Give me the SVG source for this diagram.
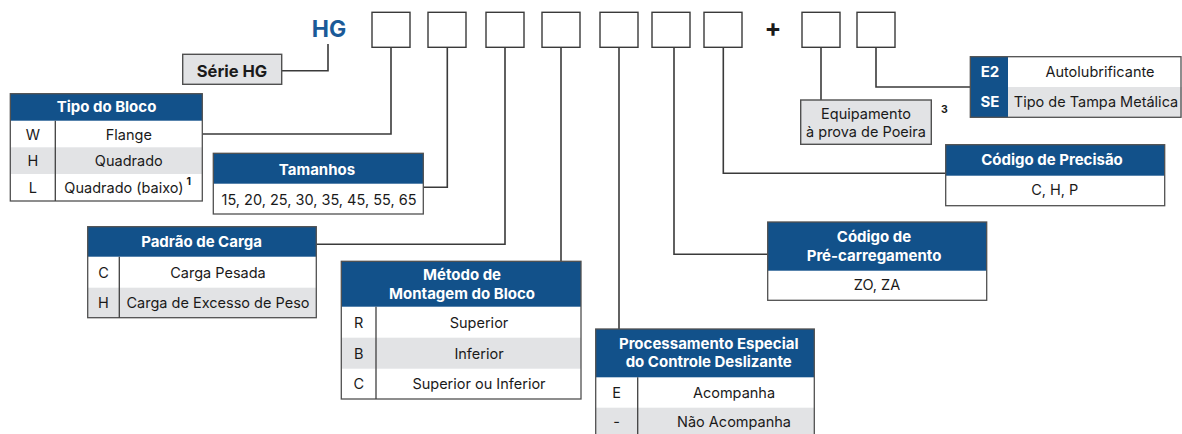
<svg xmlns="http://www.w3.org/2000/svg" width="1182" height="434" viewBox="0 0 1182 434">
<style>
text{font-family:Inter,"Liberation Sans",Arial,sans-serif;}
.bg{fill:#ffffff}
.hdr{fill:#12518a}
.shade{fill:#e2e3e5}
.frame{fill:none;stroke:#505050;stroke-width:1.3}
.div{stroke:#404040;stroke-width:1.3}
.box{fill:#ffffff;stroke:#3a3a3a;stroke-width:1.4}
.gbox{fill:#e2e3e5;stroke:#505050;stroke-width:1.4}
.conn{fill:none;stroke:#3a3a3a;stroke-width:1.6}
.th{fill:#ffffff;font-weight:700;font-size:15px;text-anchor:middle}
.td{fill:#1a1a1a;font-size:14.5px;text-anchor:middle}
.sup{fill:#1a1a1a;font-weight:700;font-size:10.5px}
</style>
<rect width="1182" height="434" class="bg"/>

<g id="connectors">
<path class="conn" d="M328,44 V70.7 H281.7"/>
<path class="conn" d="M391,47.3 V134 H202.3"/>
<path class="conn" d="M447.3,47.3 V187.3 H423.3"/>
<path class="conn" d="M505,47.3 V244.3 H316.3"/>
<path class="conn" d="M561,47.3 V261.3"/>
<path class="conn" d="M619,47.3 V329"/>
<path class="conn" d="M674,47.3 V254.3 H767.7"/>
<path class="conn" d="M723.3,47.3 V173.3 H945.7"/>
<path class="conn" d="M821,47.3 V100"/>
<path class="conn" d="M876,47.3 V87 H970.3"/>
</g>

<g id="title-hg">
<text x="329" y="37" font-size="23" font-weight="700" fill="#1a5a98" text-anchor="middle">HG</text>
</g>

<g id="code-box-1"><rect class="box" x="372" y="12.3" width="38" height="35"/></g>
<g id="code-box-2"><rect class="box" x="428" y="12.3" width="38" height="35"/></g>
<g id="code-box-3"><rect class="box" x="486" y="12.3" width="38" height="35"/></g>
<g id="code-box-4"><rect class="box" x="542" y="12.3" width="38" height="35"/></g>
<g id="code-box-5"><rect class="box" x="600" y="12.3" width="38" height="35"/></g>
<g id="code-box-6"><rect class="box" x="652" y="12.3" width="38" height="35"/></g>
<g id="code-box-7"><rect class="box" x="704" y="12.3" width="38" height="35"/></g>
<g id="plus-sign"><text x="773" y="37" font-size="25" font-weight="700" fill="#1a1a1a" text-anchor="middle">+</text></g>
<g id="code-box-8"><rect class="box" x="802" y="12.3" width="38" height="35"/></g>
<g id="code-box-9"><rect class="box" x="857" y="12.3" width="38" height="35"/></g>

<g id="serie-hg">
<rect class="gbox" x="182.7" y="54.3" width="99" height="30"/>
<text x="232" y="76.5" font-size="16.5" font-weight="700" fill="#1a1a1a" text-anchor="middle">Série HG</text>
</g>

<g id="tipo-do-bloco">
<rect class="hdr" x="10.3" y="93.7" width="192" height="27"/>
<rect class="shade" x="10.3" y="147.3" width="192" height="26.7"/>
<rect class="frame" x="10.3" y="93.7" width="192" height="107.3"/>
<line class="div" x1="55.3" y1="120.7" x2="55.3" y2="201"/>
<text class="th" x="106.5" y="111.5">Tipo do Bloco</text>
<text class="td" x="32.8" y="139.5">W</text>
<text class="td" x="128.8" y="139.5">Flange</text>
<text class="td" x="32.8" y="166">H</text>
<text class="td" x="128.8" y="166">Quadrado</text>
<text class="td" x="32.8" y="193">L</text>
<text class="td" x="124" y="193">Quadrado (baixo)</text>
<text class="sup" x="186.5" y="185">1</text>
</g>

<g id="tamanhos">
<rect class="hdr" x="213.3" y="153.3" width="210" height="30.4"/>
<rect class="frame" x="213.3" y="153.3" width="210" height="60.7"/>
<text class="th" x="317" y="174.5">Tamanhos</text>
<text class="td" x="319" y="204.5">15, 20, 25, 30, 35, 45, 55, 65</text>
</g>

<g id="padrao-de-carga">
<rect class="hdr" x="87.7" y="226.7" width="228.6" height="30"/>
<rect class="shade" x="87.7" y="287.7" width="228.6" height="30"/>
<rect class="frame" x="87.7" y="226.7" width="228.6" height="91"/>
<line class="div" x1="119.3" y1="256.7" x2="119.3" y2="317.7"/>
<text class="th" x="201.5" y="247">Padrão de Carga</text>
<text class="td" x="103.5" y="277.5">C</text>
<text class="td" x="218" y="277.5">Carga Pesada</text>
<text class="td" x="103.5" y="308">H</text>
<text class="td" x="218" y="308">Carga de Excesso de Peso</text>
</g>

<g id="metodo-montagem">
<rect class="hdr" x="341.3" y="261.3" width="239.7" height="45.4"/>
<rect class="shade" x="341.3" y="337.7" width="239.7" height="31"/>
<rect class="frame" x="341.3" y="261.3" width="239.7" height="137.7"/>
<line class="div" x1="376" y1="306.7" x2="376" y2="399"/>
<text class="th" x="462" y="280">Método de</text>
<text class="th" x="462" y="298.7">Montagem do Bloco</text>
<text class="td" x="358.7" y="327.5">R</text>
<text class="td" x="479" y="327.5">Superior</text>
<text class="td" x="358.7" y="358.5">B</text>
<text class="td" x="479" y="358.5">Inferior</text>
<text class="td" x="358.7" y="389">C</text>
<text class="td" x="479" y="389">Superior ou Inferior</text>
</g>

<g id="processamento-especial">
<rect class="hdr" x="595.7" y="329" width="218.6" height="48.3"/>
<rect class="shade" x="595.7" y="407.7" width="218.6" height="32"/>
<rect class="frame" x="595.7" y="329" width="218.6" height="112"/>
<line class="div" x1="637.7" y1="377.3" x2="637.7" y2="441"/>
<text class="th" x="708.7" y="349">Processamento Especial</text>
<text class="th" x="708.7" y="366.7">do Controle Deslizante</text>
<text class="td" x="616.7" y="397.8">E</text>
<text class="td" x="734" y="397.8">Acompanha</text>
<text class="td" x="616.7" y="427">-</text>
<text class="td" x="734" y="427">Não Acompanha</text>
</g>

<g id="pre-carregamento">
<rect class="hdr" x="767.7" y="222" width="219" height="48.7"/>
<rect class="frame" x="767.7" y="222" width="219" height="78.3"/>
<text class="th" x="874" y="241.7">Código de</text>
<text class="th" x="874" y="261">Pré-carregamento</text>
<text class="td" x="877" y="290">ZO, ZA</text>
</g>

<g id="codigo-precisao">
<rect class="hdr" x="945.7" y="144.7" width="219" height="31"/>
<rect class="frame" x="945.7" y="144.7" width="219" height="61"/>
<text class="th" x="1052" y="165.3">Código de Precisão</text>
<text class="td" x="1054.7" y="194.5">C, H, P</text>
</g>

<g id="equipamento-poeira">
<rect class="gbox" x="800.7" y="100" width="130.6" height="44.3"/>
<text class="td" x="866" y="118.5">Equipamento</text>
<text class="td" x="866" y="136.5">à prova de Poeira</text>
<text class="sup" x="941" y="112.5">3</text>
</g>

<g id="vedacao">
<rect class="shade" x="1008" y="87" width="174" height="30.3"/>
<rect class="hdr" x="970.3" y="56.7" width="37.7" height="60.6"/>
<rect class="frame" x="970.3" y="56.7" width="210.7" height="60.6"/>
<text class="th" x="990" y="76.5">E2</text>
<text class="th" x="990" y="106.5">SE</text>
<text class="td" x="1100" y="76.5">Autolubrificante</text>
<text class="td" x="1096" y="106.5">Tipo de Tampa Metálica</text>
</g>
</svg>
